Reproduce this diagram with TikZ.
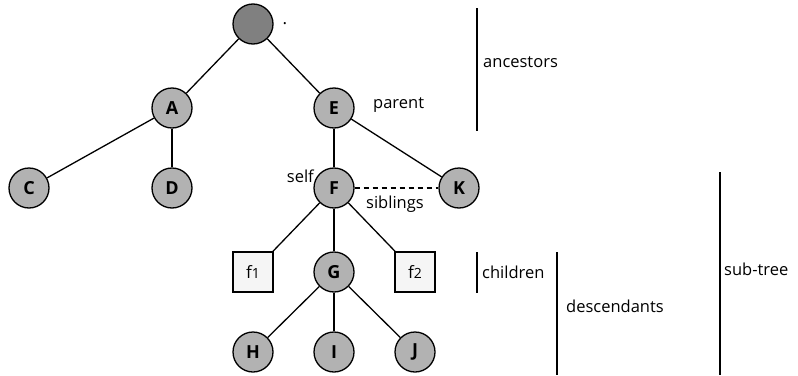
\documentclass[tikz,border=0pt]{standalone}
\usepackage{fontspec}
\setmainfont{Open Sans}
\begin{document}
\begin{tikzpicture}[x=1pt,y=-1pt,
  tnode/.style={circle,draw,line width=1.3pt,fill=black!30,minimum size=40pt,inner sep=0pt,font=\fontsize{18}{20}\selectfont\bfseries},
  rnode/.style={circle,draw,line width=1.3pt,fill=black!50,minimum size=40pt,inner sep=0pt},
  fbox/.style={rectangle,draw,line width=1.3pt,fill=black!4,minimum size=40pt,inner sep=0pt,font=\fontsize{17}{19}\selectfont},
  edge/.style={line width=1.3pt},
  bar/.style={line width=2pt},
  lbl/.style={font=\fontsize{16.5}{19}\selectfont,inner sep=0pt,anchor=west}]
\useasboundingbox (0,0) rectangle (798,375);
\node[rnode] (root) at (253,24) {};
\node[inner sep=0pt,font=\fontsize{17}{19}\selectfont] (dot) at (285,24) {.};
\node[tnode] (A) at (172,108) {A};
\node[tnode] (E) at (334,108) {E};
\node[tnode] (C) at (29,188) {C};
\node[tnode] (D) at (172,188) {D};
\node[tnode] (F) at (334,188) {F};
\node[tnode] (K) at (459,188) {K};
\node[fbox] (f1) at (253,272) {f\raisebox{-0.5pt}{\fontsize{14}{16}\selectfont 1}};
\node[tnode] (G) at (334,272) {G};
\node[fbox] (f2) at (415,272) {f\raisebox{-0.5pt}{\fontsize{14}{16}\selectfont 2}};
\node[tnode] (H) at (253,352) {H};
\node[tnode] (I) at (334,352) {I};
\node[tnode] (J) at (415,352) {J};
\draw[edge] (root) -- (A);
\draw[edge] (root) -- (E);
\draw[edge] (A) -- (C);
\draw[edge] (A) -- (D);
\draw[edge] (E) -- (F);
\draw[edge] (E) -- (K);
\draw[edge] (F) -- (f1);
\draw[edge] (F) -- (G);
\draw[edge] (F) -- (f2);
\draw[edge] (G) -- (H);
\draw[edge] (G) -- (I);
\draw[edge] (G) -- (J);
\draw[edge,dash pattern=on 5pt off 4pt] (F) -- (K);
\node[lbl] (parent) at (373,105) {parent};
\node[lbl,anchor=east] (self) at (314,176) {self};
\node[lbl] (sib) at (366,204) {siblings};
\coordinate (a1) at (477,8); \coordinate (a2) at (477,131);
\draw[bar] (a1) -- (a2);
\node[lbl] (anc) at (483,62) {ancestors};
\coordinate (c1) at (477,252); \coordinate (c2) at (477,293);
\draw[bar] (c1) -- (c2);
\node[lbl] (chi) at (482,272) {children};
\coordinate (d1) at (557,252); \coordinate (d2) at (557,375);
\draw[bar] (d1) -- (d2);
\node[lbl] (desc) at (566,306) {descendants};
\coordinate (s1) at (720,172); \coordinate (s2) at (720,375);
\draw[bar] (s1) -- (s2);
\node[lbl] (sub) at (724,269) {sub-tree};
\end{tikzpicture}
\end{document}
